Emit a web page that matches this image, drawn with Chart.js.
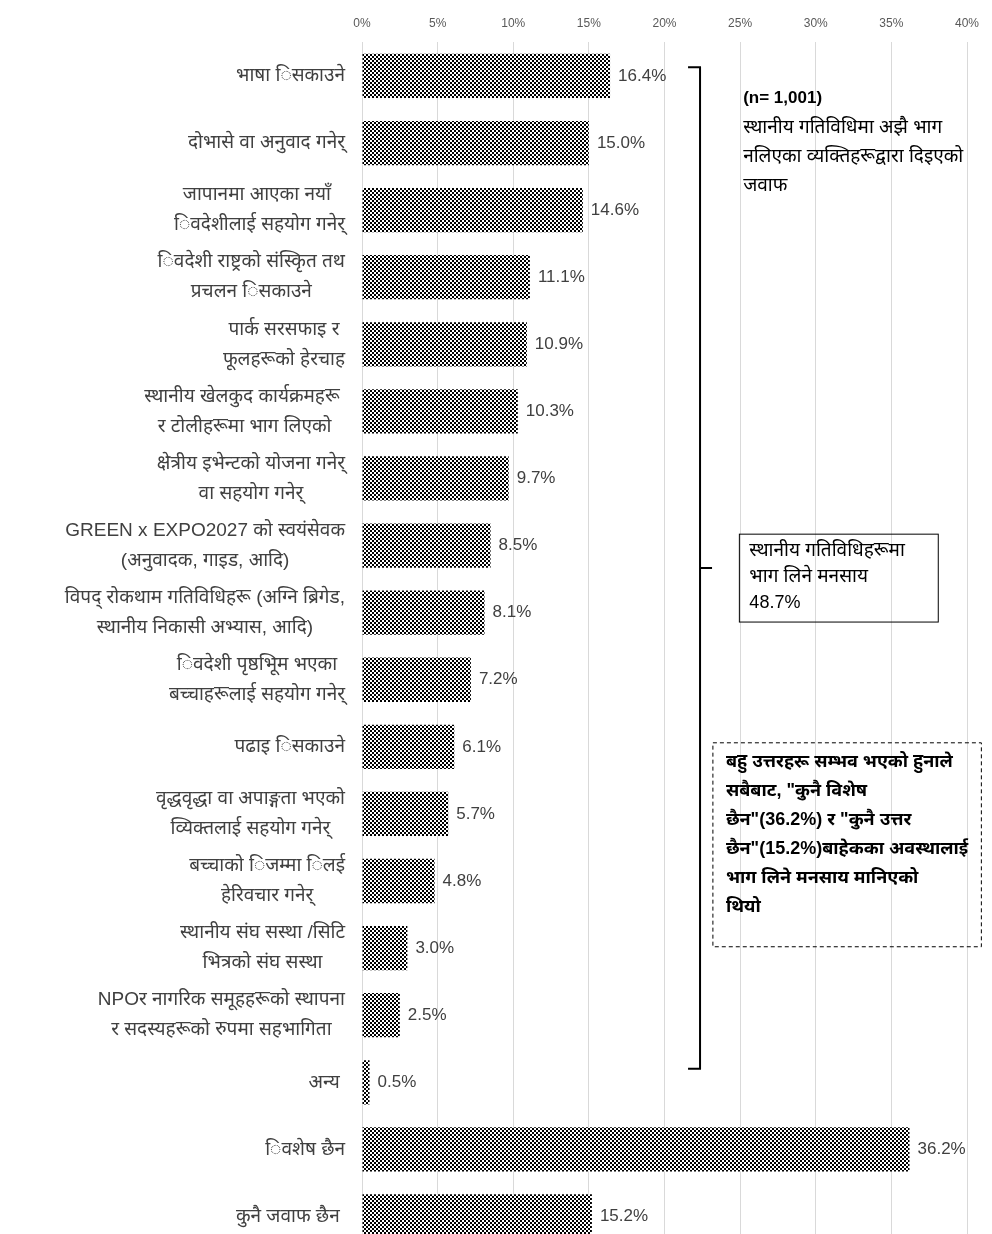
<!DOCTYPE html>
<html>
<head>
<meta charset="utf-8">
<script src="https://cdn.jsdelivr.net/npm/chart.js@4/dist/chart.umd.min.js"></script>
<style>
    html, body { margin: 0; padding: 0; background: #fff; overflow: hidden; }
    #wrap { position: relative; width: 992px; height: 1250px; }
</style>
</head>
<body>
<div id="wrap"><canvas id="activityChart"></canvas></div>
<script>
const categories = [
    ["भाषा िसकाउने"],
    ["दोभासे वा अनुवाद गनेर्"],
    ["जापानमा आएका नयाँ ", "िवदेशीलाई सहयोग गनेर्"],
    ["िवदेशी राष्ट्रको संस्कृित तथ", "प्रचलन िसकाउने"],
    ["पार्क सरसफाइ र", "फूलहरूको हेरचाह"],
    ["स्थानीय खेलकुद कार्यक्रमहरू ", "र टोलीहरूमा भाग लिएको"],
    ["क्षेत्रीय इभेन्टको योजना गनेर्", "वा सहयोग गनेर्"],
    ["GREEN x EXPO2027 को स्वयंसेवक", "(अनुवादक, गाइड, आदि)"],
    ["विपद् रोकथाम गतिविधिहरू (अग्नि ब्रिगेड,", "स्थानीय निकासी अभ्यास, आदि)"],
    ["िवदेशी पृष्ठभूिम भएका", "बच्चाहरूलाई सहयोग गनेर्"],
    ["पढाइ िसकाउने"],
    ["वृद्धवृद्धा वा अपाङ्गता भएको", "व्यिक्तलाई सहयोग गनेर्"],
    ["बच्चाको िजम्मा िलई", "हेरिवचार गनेर्"],
    ["स्थानीय संघ सस्था /सिटि", "भित्रको संघ सस्था"],
    ["NPOर नागरिक समूहहरूको स्थापना", "र सदस्यहरूको रुपमा सहभागिता"],
    ["अन्य "],
    ["िवशेष छैन"],
    ["कुनै जवाफ छैन "]
];
const shares = [16.4, 15.0, 14.6, 11.1, 10.9, 10.3, 9.7, 8.5, 8.1, 7.2, 6.1, 5.7, 4.8, 3.0, 2.5, 0.5, 36.2, 15.2];
const axisTicks = [0, 5, 10, 15, 20, 25, 30, 35, 40];

const noteTop = ["(n= 1,001)", "स्थानीय गतिविधिमा अझै भाग", "नलिएका व्यक्तिहरूद्वारा दिइएको", "जवाफ"];
const noteBox = ["स्थानीय गतिविधिहरूमा", "भाग लिने मनसाय", "48.7%"];
const noteDashed = ["बहु उत्तरहरू सम्भव भएको हुनाले", "सबैबाट, \"कुनै विशेष", "छैन\"(36.2%) र \"कुनै उत्तर", "छैन\"(15.2%)बाहेकका अवस्थालाई", "भाग लिने मनसाय मानिएको", "थियो"];

const FONT = "'Liberation Sans', Arial, 'Noto Sans', sans-serif";

function checkerPattern() {
    const c = document.createElement("canvas");
    c.width = 4;
    c.height = 4;
    const g = c.getContext("2d");
    g.fillStyle = "#fff";
    g.fillRect(0, 0, 4, 4);
    g.fillStyle = "#000";
    g.fillRect(0, 0, 2, 2);
    g.fillRect(2, 2, 2, 2);
    return g.createPattern(c, "repeat");
}

const labelsPlugin = {
    id: "labelsPlugin",
    afterDraw(chart) {
        const ctx = chart.ctx;
        const x = chart.scales.x;
        const y = chart.scales.y;
        ctx.save();

        // category labels, lines centred in a right-aligned block
        ctx.font = "19px " + FONT;
        ctx.fillStyle = "#404040";
        ctx.textBaseline = "middle";
        ctx.textAlign = "center";
        const right = x.left - 17;
        const lh = 30;
        categories.forEach((lines, i) => {
            const cy = y.getPixelForValue(i);
            const w = Math.max(...lines.map(l => ctx.measureText(l).width));
            const cx = right - w / 2;
            lines.forEach((l, k) => {
                ctx.fillText(l, cx, cy + (k - (lines.length - 1) / 2) * lh);
            });
        });

        // value labels
        ctx.font = "17px " + FONT;
        ctx.textAlign = "left";
        shares.forEach((v, i) => {
            ctx.fillText(v.toFixed(1) + "%", x.getPixelForValue(v) + 8, y.getPixelForValue(i));
        });

        // bracket
        const bx = x.getPixelForValue(22.35);
        const bTop = y.getPixelForValue(-0.13);
        const bBot = y.getPixelForValue(14.8);
        const bMid = (bTop + bBot) / 2;
        ctx.strokeStyle = "#000";
        ctx.lineWidth = 2;
        ctx.beginPath();
        ctx.moveTo(bx - 12, bTop);
        ctx.lineTo(bx, bTop);
        ctx.lineTo(bx, bBot);
        ctx.lineTo(bx - 12, bBot);
        ctx.moveTo(bx, bMid);
        ctx.lineTo(bx + 12, bMid);
        ctx.stroke();

        // note above
        ctx.fillStyle = "#000";
        const nx = x.getPixelForValue(25.2);
        noteTop.forEach((t, k) => {
            ctx.font = (k === 0 ? "bold 17px " : "19px ") + FONT;
            ctx.fillText(t, nx, y.getPixelForValue(0.34) + k * 29);
        });

        // solid box
        const sx1 = x.getPixelForValue(24.95), sx2 = x.getPixelForValue(38.1);
        const sy1 = y.getPixelForValue(6.83), sy2 = y.getPixelForValue(8.14);
        ctx.lineWidth = 1;
        ctx.strokeRect(sx1, sy1, sx2 - sx1, sy2 - sy1);
        noteBox.forEach((t, k) => {
            ctx.font = (k === 2 ? "18px " : "19px ") + FONT;
            ctx.fillText(t, sx1 + 10, sy1 + 17 + k * 26);
        });

        // dashed box
        const dx1 = x.getPixelForValue(23.2), dx2 = x.getPixelForValue(40.95);
        const dy1 = y.getPixelForValue(9.94), dy2 = y.getPixelForValue(12.98);
        ctx.setLineDash([4, 3]);
        ctx.strokeRect(dx1, dy1, dx2 - dx1, dy2 - dy1);
        ctx.setLineDash([]);
        ctx.font = "bold 18px " + FONT;
        noteDashed.forEach((t, k) => {
            ctx.fillText(t, dx1 + 13, dy1 + 19 + k * 29);
        });

        ctx.restore();
    }
};

new Chart(document.getElementById("activityChart"), {
    type: "bar",
    data: {
        labels: categories,
        datasets: [{
            data: shares,
            backgroundColor: checkerPattern(),
            borderWidth: 0,
            categoryPercentage: 1,
            barPercentage: 0.66
        }]
    },
    options: {
        indexAxis: "y",
        responsive: true,
        maintainAspectRatio: false,
        animation: false,
        layout: { padding: { left: 362, right: 25, top: 4, bottom: 0 } },
        plugins: {
            legend: { display: false },
            tooltip: { enabled: false }
        },
        scales: {
            x: {
                position: "top",
                min: 0,
                max: 40,
                afterBuildTicks(scale) {
                    scale.ticks = axisTicks.map(v => ({ value: v }));
                },
                ticks: {
                    padding: 12,
                    color: "#595959",
                    font: { size: 12, family: FONT },
                    callback: v => v + "%"
                },
                grid: { color: "#d9d9d9", lineWidth: 1, drawTicks: false },
                border: { display: false }
            },
            y: {
                display: false
            }
        }
    },
    plugins: [labelsPlugin]
});
</script>
</body>
</html>
